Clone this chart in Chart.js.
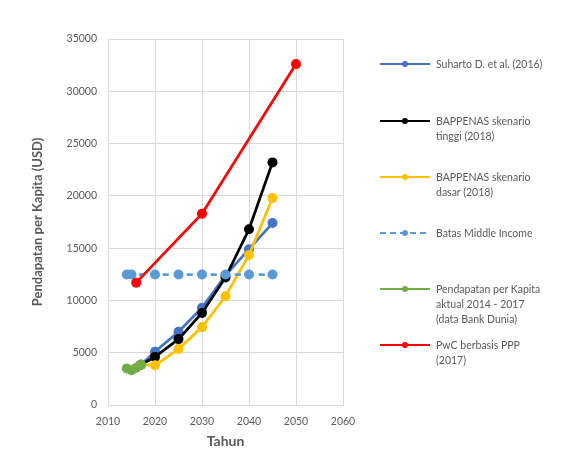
<!DOCTYPE html>
<html>
<head>
<meta charset="utf-8">
<script src="https://cdn.jsdelivr.net/npm/chart.js@4"></script>
<style>
  html, body { margin: 0; padding: 0; background: #fff; }
  #wrap { position: relative; width: 577px; height: 463px; }
  #legend { position: absolute; left: 0; top: 0; width: 577px; height: 463px; pointer-events: none; }
  .item { position: absolute; left: 380px; font-family: Lato, "Open Sans", sans-serif; font-size: 10.5px; line-height: 15px; color: #595959; }
  .item .ln { position: absolute; left: 0; top: 6px; width: 50px; height: 0; border-top: 2.5px solid; }
  .item .dot { position: absolute; left: 22px; top: 4px; width: 6px; height: 6px; border-radius: 50%; }
  .item .txt { position: absolute; left: 56px; top: 0; white-space: nowrap; }
</style>
</head>
<body>
<div id="wrap">
  <canvas id="chart" width="577" height="463"></canvas>
  <div id="legend"></div>
</div>
<script>
// Tahun & nilai (USD) tiap seri
const suhartoYears = [2017, 2020, 2025, 2030, 2035, 2040, 2045];
const suhartoVals  = [3850, 5100, 7000, 9300, 12400, 14900, 17400];

const tinggiYears = [2017, 2020, 2025, 2030, 2035, 2040, 2045];
const tinggiVals  = [3850, 4600, 6300, 8800, 12200, 16800, 23200];

const dasarYears = [2017, 2020, 2025, 2030, 2035, 2040, 2045];
const dasarVals  = [3850, 3800, 5350, 7450, 10400, 14350, 19800];

const middleYears = [2014, 2015, 2020, 2025, 2030, 2035, 2040, 2045];
const middleVals  = [12475, 12475, 12475, 12475, 12475, 12475, 12475, 12475];

const aktualYears = [2014, 2015, 2016, 2017];
const aktualVals  = [3500, 3330, 3560, 3850];

const pwcYears = [2016, 2030, 2050];
const pwcVals  = [11700, 18300, 32600];

const seriesLabels = [
    ["Suharto D. et al. (2016)"],
    ["BAPPENAS skenario", "tinggi (2018)"],
    ["BAPPENAS skenario", "dasar (2018)"],
    ["Batas Middle Income"],
    ["Pendapatan per Kapita", "aktual 2014 - 2017", "(data Bank Dunia)"],
    ["PwC berbasis PPP", "(2017)"]
];
const seriesColors = ["#4472C4", "#000000", "#FFC000", "#5B9BD5", "#70AD47", "#FF0000"];
const legendY = [64, 121, 177, 233, 289, 345];

const xTicks = [2010, 2020, 2030, 2040, 2050, 2060];
const yTicks = [0, 5000, 10000, 15000, 20000, 25000, 30000, 35000];

function pts(xs, ys) {
    return xs.map((x, i) => ({ x: x, y: ys[i] }));
}

// seri yang belakangan digambar di atas (seperti Excel)
function ds(i, xs, ys, extra) {
    return Object.assign({
        label: seriesLabels[i].join(" "),
        data: pts(xs, ys),
        order: seriesLabels.length - i,
        borderColor: seriesColors[i],
        backgroundColor: seriesColors[i],
        borderWidth: 2.75,
        pointRadius: 5,
        pointBorderWidth: 0,
        showLine: true,
        tension: 0
    }, extra || {});
}

const tickColor = "#595959";
const gridColor = "#d9d9d9";

new Chart(document.getElementById("chart"), {
    type: "scatter",
    data: {
        datasets: [
            ds(0, suhartoYears, suhartoVals),
            ds(1, tinggiYears, tinggiVals),
            ds(2, dasarYears, dasarVals),
            ds(3, middleYears, middleVals, { borderDash: [6, 6] }),
            ds(4, aktualYears, aktualVals),
            ds(5, pwcYears, pwcVals)
        ]
    },
    options: {
        responsive: false,
        animation: false,
        layout: { padding: { left: 26, right: 234, top: 39, bottom: 9 } },
        plugins: {
            legend: { display: false },
            tooltip: { enabled: false }
        },
        scales: {
            x: {
                type: "linear",
                min: xTicks[0],
                max: xTicks[xTicks.length - 1],
                afterBuildTicks: (s) => { s.ticks = xTicks.map(v => ({ value: v })); },
                afterFit: (s) => { s.height = 49; },
                grid: { color: gridColor, drawTicks: false },
                border: { color: gridColor },
                ticks: {
                    color: tickColor,
                    padding: 10,
                    font: { family: "Lato", size: 10.5 },
                    callback: (v) => String(v)
                },
                title: {
                    display: true,
                    text: "Tahun",
                    color: tickColor,
                    font: { family: "Lato", size: 14, weight: "bold" },
                    padding: { top: 4, bottom: 4 }
                }
            },
            y: {
                min: yTicks[0],
                max: yTicks[yTicks.length - 1],
                afterBuildTicks: (s) => { s.ticks = yTicks.map(v => ({ value: v })); },
                afterFit: (s) => { s.width = 82; },
                grid: { color: gridColor, drawTicks: false },
                border: { color: gridColor },
                ticks: {
                    color: tickColor,
                    padding: 11,
                    font: { family: "Lato", size: 10.5 },
                    callback: (v) => String(v)
                },
                title: {
                    display: true,
                    text: "Pendapatan per Kapita (USD)",
                    color: tickColor,
                    font: { family: "Lato", size: 13, weight: "bold" },
                    padding: { top: 4, bottom: 4 }
                }
            }
        }
    }
});

// Legenda manual di sisi kanan
const legendEl = document.getElementById("legend");
seriesLabels.forEach((lines, i) => {
    const item = document.createElement("div");
    item.className = "item";
    item.style.top = (legendY[i] - 7) + "px";
    const ln = document.createElement("div");
    ln.className = "ln";
    ln.style.borderTopColor = seriesColors[i];
    if (i === 3) {
        ln.style.borderTopStyle = "dashed";
        ln.style.width = "46px";
    }
    const dot = document.createElement("div");
    dot.className = "dot";
    dot.style.background = seriesColors[i];
    const txt = document.createElement("div");
    txt.className = "txt";
    txt.innerHTML = lines.join("<br>");
    item.appendChild(ln);
    item.appendChild(dot);
    item.appendChild(txt);
    legendEl.appendChild(item);
});
</script>
</body>
</html>
